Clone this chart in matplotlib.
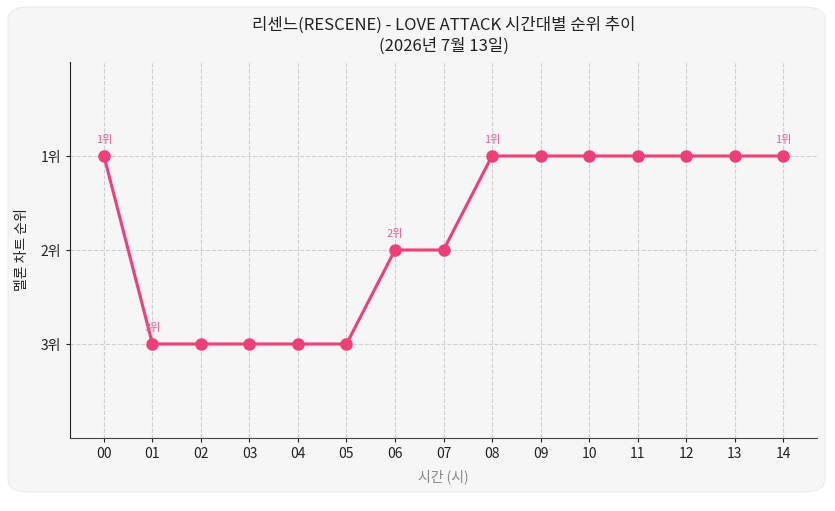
import matplotlib.pyplot as plt
from matplotlib.patches import FancyBboxPatch

plt.rcParams['font.family'] = ['Noto Sans CJK KR', 'DejaVu Sans']

# data
hours = ['00', '01', '02', '03', '04', '05', '06', '07', '08', '09', '10', '11', '12', '13', '14']
ranks = [1, 3, 3, 3, 3, 3, 2, 2, 1, 1, 1, 1, 1, 1, 1]
rank_ticks = [1, 2, 3]
rank_labels = ['1위', '2위', '3위']

line_color = '#f23d77'
label_color = '#e8608c'

fig = plt.figure(figsize=(8.35, 5.11), dpi=100)
fig.patch.set_facecolor('white')

# rounded card behind the chart
card = FancyBboxPatch((8 / 835, 19 / 511), 817 / 835, 485 / 511,
                      boxstyle='round,pad=0,rounding_size=0.025',
                      transform=fig.transFigure, facecolor='#f6f6f6',
                      edgecolor='#ececec', linewidth=0.8, zorder=-5)
fig.patches.append(card)

ax = fig.add_axes([70 / 835, 73 / 511, 747 / 835, 376 / 511])
ax.set_facecolor('#f6f6f6')

x = list(range(len(hours)))
ax.plot(x, ranks, color=line_color, linewidth=2.2, marker='o', markersize=8, zorder=3)

# label first, last and every point where the rank changes
for i, r in enumerate(ranks):
    if i == 0 or i == len(ranks) - 1 or ranks[i] != ranks[i - 1]:
        ax.annotate(f'{r}위', (i, r), xytext=(0, 8), textcoords='offset points',
                    ha='center', va='bottom', fontsize=8, color=label_color)

ax.set_xlim(-0.7, len(hours) - 0.3)
ax.set_ylim(4, 0)
ax.set_xticks(x)
ax.set_xticklabels(hours, fontsize=10)
ax.set_yticks(rank_ticks)
ax.set_yticklabels(rank_labels, fontsize=10)

ax.grid(True, linestyle='--', color='#d0d0d0', linewidth=0.8)
ax.set_axisbelow(True)
for s in ['top', 'right']:
    ax.spines[s].set_visible(False)
ax.spines['left'].set_color('#222222')
ax.spines['bottom'].set_color('#444444')
ax.tick_params(axis='both', colors='#222222', length=3)

ax.set_xlabel('시간 (시)', fontsize=10, color='#888888', labelpad=6)
ax.set_ylabel('멜론 차트 순위', fontsize=10, color='#222222', labelpad=8)
ax.set_title('리센느(RESCENE) - LOVE ATTACK 시간대별 순위 추이\n(2026년 7월 13일)',
             fontsize=12, color='#222222', pad=8, linespacing=1.3)

fig.savefig('out.png', dpi=100, facecolor=fig.get_facecolor())
